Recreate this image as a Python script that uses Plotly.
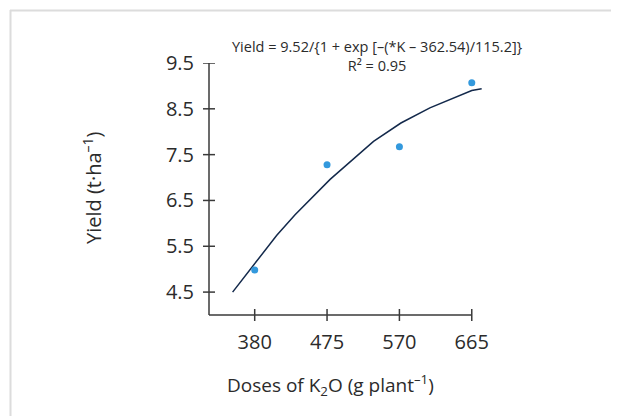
import plotly.graph_objects as go

# ---- data ----
doses = [380, 475, 570, 665]
yield_obs = [4.98, 7.28, 7.67, 9.07]
fit_x = [351, 380, 409, 433, 479, 536, 572, 610, 665, 678]
fit_y = [4.50, 5.12, 5.74, 6.19, 6.96, 7.79, 8.19, 8.52, 8.90, 8.94]
x_ticks = [380, 475, 570, 665]
y_ticks = [4.5, 5.5, 6.5, 7.5, 8.5, 9.5]
x_range = [320, 685]
y_range = [4.0, 9.5]
eq_text = "Yield = 9.52/{1 + exp [–(*K – 362.54)/115.2]}"
r2_text = "R² = 0.95"
x_title = "Doses of K<sub>2</sub>O (g plant<sup>–1</sup>)"
y_title = "Yield (t·ha<sup>–1</sup>)"

OFF = 8  # page body margin
W, H = 619, 416
# plot area in page pixels
PL, PT, PW, PH = 209, 63, 278, 252
L = PL - OFF
T = PT - OFF
B = H - T - PH
R = W - L - PW


def pxx(px):
    return (px - PL) / PW


def pyy(py):
    return (PT + PH - py) / PH


FONT = "Open Sans"
AX = "#3a3a3a"
TXT = "#2b2b2b"

fig = go.Figure()
fig.add_trace(go.Scatter(x=fit_x, y=fit_y, mode="lines",
                         line=dict(color="#13294b", width=1.5),
                         hoverinfo="skip", showlegend=False))
fig.add_trace(go.Scatter(x=doses, y=yield_obs, mode="markers",
                         marker=dict(color="#3399dd", size=7),
                         showlegend=False))

shapes = []
# outer light border (top and left)
shapes.append(dict(type="line", xref="paper", yref="paper",
                   x0=pxx(10), x1=pxx(W + 10), y0=pyy(10.5), y1=pyy(10.5),
                   line=dict(color="#dcdcdc", width=2)))
shapes.append(dict(type="line", xref="paper", yref="paper",
                   x0=pxx(10.5), x1=pxx(10.5), y0=pyy(10), y1=pyy(H + 10),
                   line=dict(color="#dcdcdc", width=2)))
# axis lines
shapes.append(dict(type="line", xref="x", yref="paper",
                   x0=x_range[0], x1=x_ticks[-1], y0=0, y1=0,
                   line=dict(color=AX, width=1.5)))
shapes.append(dict(type="line", xref="paper", yref="paper",
                   x0=0, x1=0, y0=0, y1=1,
                   line=dict(color=AX, width=1.5)))
# crossing ticks
for v in x_ticks:
    shapes.append(dict(type="line", xref="x", yref="paper",
                       x0=v, x1=v, y0=pyy(PT + PH - 6), y1=pyy(PT + PH + 6),
                       line=dict(color=AX, width=1.5)))
for v in y_ticks:
    shapes.append(dict(type="line", xref="paper", yref="y",
                       x0=pxx(PL - 6), x1=pxx(PL + 6), y0=v, y1=v,
                       line=dict(color=AX, width=1.5)))

annotations = [
    dict(text=eq_text + "<br>" + r2_text, xref="paper", yref="paper",
         x=pxx(377), y=pyy(55.5), align="center",
         showarrow=False, xanchor="center", yanchor="middle",
         font=dict(family=FONT, size=14.5, color=TXT)),
    dict(text=x_title, xref="paper", yref="paper", x=pxx(330), y=pyy(385),
         showarrow=False, xanchor="center", yanchor="middle",
         font=dict(family=FONT, size=19, color=TXT)),
    dict(text=y_title, xref="paper", yref="paper", x=pxx(92), y=pyy(188),
         showarrow=False, xanchor="center", yanchor="middle", textangle=-90,
         font=dict(family=FONT, size=20, color=TXT)),
]

fig.update_layout(
    width=W, height=H,
    margin=dict(l=L, r=R, t=T, b=B, pad=0),
    paper_bgcolor="white", plot_bgcolor="white",
    shapes=shapes, annotations=annotations,
    xaxis=dict(range=x_range, tickvals=x_ticks, ticktext=[str(v) for v in x_ticks],
               showline=False, showgrid=False, zeroline=False, ticks="",
               ticklabelstandoff=13,
               tickfont=dict(family=FONT, size=20, color=TXT)),
    yaxis=dict(range=y_range, tickvals=y_ticks, ticktext=[f"{v:.1f}" for v in y_ticks],
               showline=False, showgrid=False, zeroline=False, ticks="",
               ticklabelstandoff=14,
               tickfont=dict(family=FONT, size=20, color=TXT)),
)

fig.write_html("out.html")
